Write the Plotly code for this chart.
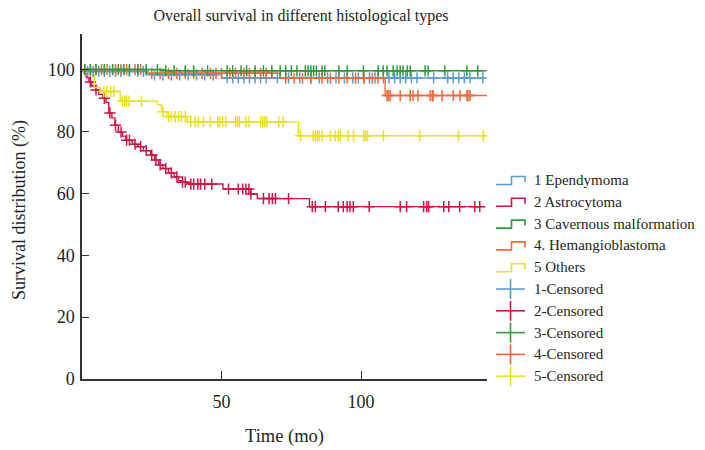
import plotly.graph_objects as go
import numpy as np

# ---------------- data ----------------
groups = ["1 Ependymoma", "2 Astrocytoma", "3 Cavernous malformation",
          "4. Hemangioblastoma", "5 Others"]
censor_names = ["1-Censored", "2-Censored", "3-Censored", "4-Censored", "5-Censored"]
colors = ["#5B9BD5", "#CC1545", "#2E9A3C", "#F2683A", "#E9E021"]

# step event times (mo) and survival (%) after each step
epen_t = [0, 2, 23, 50]
epen_v = [100, 99.4, 98.3, 97.3]
epen_end = 143.6
epen_c = [2, 4, 6, 8, 10, 12, 14, 17, 20, 22, 26, 29, 32, 35, 38, 41, 44, 47, 52, 54, 56,
          58, 60, 62, 64, 66, 70, 74, 78, 82, 85, 88, 91, 94, 97, 99, 101, 103, 105,
          108, 110, 112, 114, 116, 118, 120, 126, 131, 133, 135, 137, 139, 143.6]

astro_t = [0, 0.8, 1.5, 2.5, 3.5, 5, 6, 7.5, 8.6, 9.6, 10.7, 11.8, 13, 14.5, 15.7, 18, 20,
           22, 24.6, 26, 27.5, 29, 31, 33, 34.6, 36, 38, 50.5, 60.4, 62.8, 81.5]
astro_v = [100, 98.7, 97.4, 96, 94.7, 93.4, 92, 90.7, 89.4, 86, 84.4, 82, 79.8, 78.5, 77.2,
           75.9, 75.1, 73.8, 72.4, 70.8, 69.2, 68, 66.6, 65.3, 64.1, 63.6, 63.0, 61.4, 59.8,
           58.3, 55.7]
astro_end = 143.6
astro_c = [3, 5, 8, 10, 12, 14, 16, 17, 19, 21, 23, 25, 26.5, 28, 30, 32, 34, 36, 37, 39,
           40, 41.5, 42.5, 44, 46.5, 52.5, 56, 57.6, 58.7, 59.8, 60.5, 65, 67, 68.2, 69.3,
           74, 82.5, 83.6, 87.2, 91.8, 93.6, 95, 96, 97.2, 102.9, 114, 116.3, 122.4, 123.5,
           124.2, 129.6, 131.4, 135.3, 140.7, 142.5]

cav_t = [0, 30]
cav_v = [100, 99.6]
cav_end = 145
cav_c = [1, 3, 5, 8, 11, 13, 15, 17, 20, 23, 27, 30, 33, 37, 40, 45, 52, 54, 57, 59, 62, 65,
         68, 71, 73, 75, 77, 80, 81, 82, 83, 84, 86, 87, 92, 95, 100.8, 106.1, 107.9,
         109.3, 111.5, 112.9, 114, 115, 116.5, 117.6, 122.9, 124, 130, 137.9, 141.8]

hem_t = [0, 23, 71, 108.6]
hem_v = [100, 98.8, 97.2, 91.6]
hem_end = 145.5
hem_c = [1, 3, 5, 7, 9, 12, 14, 16, 19, 21, 25, 28, 31, 34, 37, 40, 43, 46, 48, 50, 53, 55,
         58, 60, 62, 64, 66, 68, 73, 76, 79, 82, 86, 89, 92, 95, 98, 101, 104, 106,
         109.3, 109.8, 110.4, 114, 117.6, 118.6, 120.4, 124.7, 125.5, 125.8, 129, 133,
         135.4, 137.9, 138.3, 139]

oth_t = [0, 1, 4.4, 6.6, 13.7, 27, 28.5, 30.4, 37.6, 77.5]
oth_v = [100, 98.3, 94.2, 92.9, 89.8, 88.6, 86.4, 84.8, 83.1, 78.6]
oth_end = 145
oth_c = [7.8, 8.9, 10.3, 11.4, 14.5, 15.3, 16, 16.8, 21.3, 29, 31, 32, 33.4, 34.6, 35.6, 37,
         39, 40.5, 41.6, 43.5, 46, 48.6, 49.3, 50.4, 51.5, 55, 55.7, 56.4, 58.7, 59.8, 64,
         64.8, 65.5, 66.2, 70.5, 72, 78.3, 82.8, 83.6, 84.3, 85, 86, 89, 90.7, 91.8, 92.5,
         95.4, 97.3, 101, 101.6, 102.3, 108, 121, 134.9, 143.8]

series = [
    (epen_t, epen_v, epen_end, epen_c),
    (astro_t, astro_v, astro_end, astro_c),
    (cav_t, cav_v, cav_end, cav_c),
    (hem_t, hem_v, hem_end, hem_c),
    (oth_t, oth_v, oth_end, oth_c),
]

x_ticks = [50, 100]
y_ticks = [0, 20, 40, 60, 80, 100]

FONT = "Liberation Serif, Times New Roman, serif"
TXT = "#231F20"

# ---------------- layout geometry (pixels) ----------------
# page body has an 8px margin, so the figure is made 8px smaller and offsets are page - 8
OFF = 8
W, H = 705 - OFF, 450 - OFF
ML, MR, MT, MB = 82 - OFF, 218, 34 - OFF, 71
PW, PH = W - ML - MR, H - MT - MB


def px2x(px):
    return (px - OFF - ML) / PW


def py2y(py):
    return (H - MB - (py - OFF)) / PH


def step_value(ts, vs, t):
    idx = np.searchsorted(np.array(ts), t, side="right") - 1
    return vs[max(idx, 0)]


fig = go.Figure()

order = [1, 4, 0, 3, 2]
for i in order:
    ts, vs, tend, cs = series[i]
    xs = list(ts) + [tend]
    ys = list(vs) + [vs[-1]]
    fig.add_trace(go.Scatter(x=xs, y=ys, mode="lines", line=dict(color=colors[i], width=1.4, shape="hv"),
                             name=groups[i], showlegend=False, hoverinfo="skip"))
    cy = [step_value(ts, vs, c) for c in cs]
    fig.add_trace(go.Scatter(x=cs, y=cy, mode="markers",
                             marker=dict(symbol="cross-thin", size=8, color=colors[i],
                                         line=dict(color=colors[i], width=1.5)),
                             name=censor_names[i], showlegend=False, hoverinfo="skip"))

# ---------------- custom legend ----------------
shapes = []
annotations = []
leg_y0 = 180
leg_dy = 21.8
ix0, ix1 = 496, 525
for k in range(10):
    cy = leg_y0 + k * leg_dy
    if k < 5:
        col = colors[k]
        xm = 511.5
        path = (f"M {px2x(ix0)},{py2y(cy + 4.5)} L {px2x(xm)},{py2y(cy + 4.5)} "
                f"L {px2x(xm)},{py2y(cy - 3.5)} L {px2x(ix1)},{py2y(cy - 3.5)} "
                f"L {px2x(ix1)},{py2y(cy + 2)}")
        shapes.append(dict(type="path", xref="paper", yref="paper", path=path,
                           line=dict(color=col, width=1.6)))
        label = groups[k]
    else:
        col = colors[k - 5]
        shapes.append(dict(type="line", xref="paper", yref="paper",
                           x0=px2x(ix0), x1=px2x(ix1), y0=py2y(cy), y1=py2y(cy),
                           line=dict(color=col, width=1.6)))
        shapes.append(dict(type="line", xref="paper", yref="paper",
                           x0=px2x(510.5), x1=px2x(510.5), y0=py2y(cy - 10), y1=py2y(cy + 10),
                           line=dict(color=col, width=1.6)))
        label = censor_names[k - 5]
    annotations.append(dict(xref="paper", yref="paper", x=px2x(532), y=py2y(cy),
                            xanchor="left", yanchor="middle", text=label, showarrow=False,
                            font=dict(family=FONT, size=15, color=TXT)))

# y-axis title placed as a rotated annotation
annotations.append(dict(xref="paper", yref="paper", x=px2x(19), y=py2y(210),
                        xanchor="center", yanchor="middle", textangle=-90,
                        text="Survival distribution (%)", showarrow=False,
                        font=dict(family=FONT, size=18, color=TXT)))

fig.update_layout(
    width=W, height=H,
    margin=dict(l=ML, r=MR, t=MT, b=MB),
    paper_bgcolor="white", plot_bgcolor="white",
    title=dict(text="Overall survival in different histological types",
               x=px2x(301), xref="paper", xanchor="center",
               y=1 - (15 - OFF) / H, yref="container", yanchor="middle",
               font=dict(family=FONT, size=16, color=TXT)),
    shapes=shapes,
    annotations=annotations,
    showlegend=False,
)

fig.update_xaxes(range=[0, 145.1], tickvals=x_ticks, ticks="inside", ticklen=8,
                 tickcolor="#333", tickwidth=1.2, showline=True, linecolor="#333", linewidth=1.5,
                 showgrid=False, zeroline=False, ticklabelstandoff=6, automargin=False,
                 tickfont=dict(family=FONT, size=18, color=TXT),
                 title=dict(text="Time (mo)", font=dict(family=FONT, size=18.5, color=TXT), standoff=18))
fig.update_yaxes(range=[0, 111.5], tickvals=y_ticks, ticks="inside", ticklen=7,
                 tickcolor="#333", tickwidth=1.2, showline=True, linecolor="#333", linewidth=1.5,
                 showgrid=False, zeroline=False, ticklabelstandoff=2, automargin=False,
                 tickfont=dict(family=FONT, size=18, color=TXT))

fig.write_html("out.html")
